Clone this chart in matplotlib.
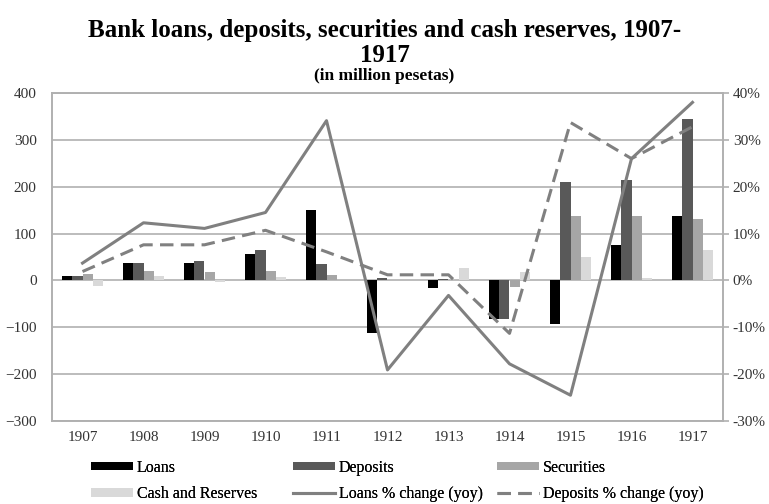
import numpy as np
import matplotlib.pyplot as plt
from matplotlib.ticker import FuncFormatter

plt.rcParams['font.family'] = ['Liberation Serif', 'DejaVu Serif']

years = ['1907', '1908', '1909', '1910', '1911', '1912', '1913', '1914', '1915', '1916', '1917']

# million pesetas
loans = [10, 38, 38, 56, 151, -113, -16, -82, -93, 76, 138]
deposits = [10, 38, 41, 66, 34, 5, 3, -82, 209, 214, 344]
securities = [13, 21, 17, 21, 12, 0, 0, -14, 137, 137, 132]
cash_reserves = [-12, 9, -3, 7, 1, 0, 26, 18, 51, 5, 64]

# year-on-year change, %
loans_pct = [3.7, 12.3, 11.1, 14.5, 34.1, -19.1, -3.2, -17.8, -24.5, 26.0, 38.0]
deposits_pct = [1.9, 7.6, 7.6, 10.7, 6.1, 1.2, 1.2, -11.3, 33.7, 26.0, 32.8]

bar_series = [
    ('Loans', loans, '#000000'),
    ('Deposits', deposits, '#595959'),
    ('Securities', securities, '#a6a6a6'),
    ('Cash and Reserves', cash_reserves, '#d9d9d9'),
]

fig = plt.figure(figsize=(7.69, 5.04), dpi=100)
ax = fig.add_axes([52 / 769, 1 - 421 / 504, 671 / 769, 328 / 504])
ax2 = ax.twinx()

x = np.arange(len(years))
w = 0.172
bars = []
for i, (name, vals, col) in enumerate(bar_series):
    h = ax.bar(x + (i - 1.5) * w, vals, w, color=col, label=name, zorder=3)
    bars.append(h)

grid_col = '#b0b0b0'
ax.set_ylim(-300, 400)
ax.set_yticks(range(-300, 401, 100))
ax.set_xlim(-0.5, len(years) - 0.5)
ax.set_xticks(x)
ax.set_xticklabels(years)
ax.yaxis.grid(True, color=grid_col, linewidth=1.2, zorder=0)
ax.set_axisbelow(True)
ax.tick_params(axis='y', length=0, pad=11, labelsize=11, labelcolor='#333333')
ax.tick_params(axis='x', length=0, pad=7, labelsize=11, labelcolor='#333333')

dash = (0, (4.4, 2.4))
l1, = ax2.plot(x, loans_pct, color='#808080', linewidth=2.2, label='Loans % change (yoy)', zorder=4)
l2, = ax2.plot(x, deposits_pct, color='#808080', linewidth=2.2, linestyle=dash,
               label='Deposits % change (yoy)', zorder=4)
ax2.set_ylim(-30, 40)
ax2.set_yticks(range(-30, 41, 10))
ax2.yaxis.set_major_formatter(FuncFormatter(lambda v, p: f'{v:.0f}%'))
ax2.tick_params(axis='y', length=4, width=1.2, color=grid_col, pad=3, labelsize=11, labelcolor='#333333')

for a in (ax, ax2):
    for s in a.spines.values():
        s.set_color(grid_col)
        s.set_linewidth(1.2)

fig.text(0.5, 1 - 31 / 504, 'Bank loans, deposits, securities and cash reserves, 1907-',
         ha='center', va='center', fontsize=18, fontweight='bold')
fig.text(0.5, 1 - 56 / 504, '1917', ha='center', va='center', fontsize=18, fontweight='bold')
fig.text(0.5, 1 - 76 / 504, '(in million pesetas)', ha='center', va='center',
         fontsize=12.5, fontweight='bold')

# legend: three columns placed at the reference positions, filled row by row
columns = [
    ([bars[0], bars[3]], 91),
    ([bars[1], l1], 293),
    ([bars[2], l2], 497),
]
for hs, xpx in columns:
    leg = fig.legend(handles=hs, labels=[h.get_label() for h in hs], ncol=1,
                     loc='center left', bbox_to_anchor=(xpx / 769, 1 - 481 / 504),
                     frameon=False, fontsize=11.5, handlelength=2.6, handleheight=0.45,
                     handletextpad=0.25, labelspacing=0.65, borderpad=0, borderaxespad=0)
    fig.add_artist(leg)

fig.savefig('out.png', dpi=100)
